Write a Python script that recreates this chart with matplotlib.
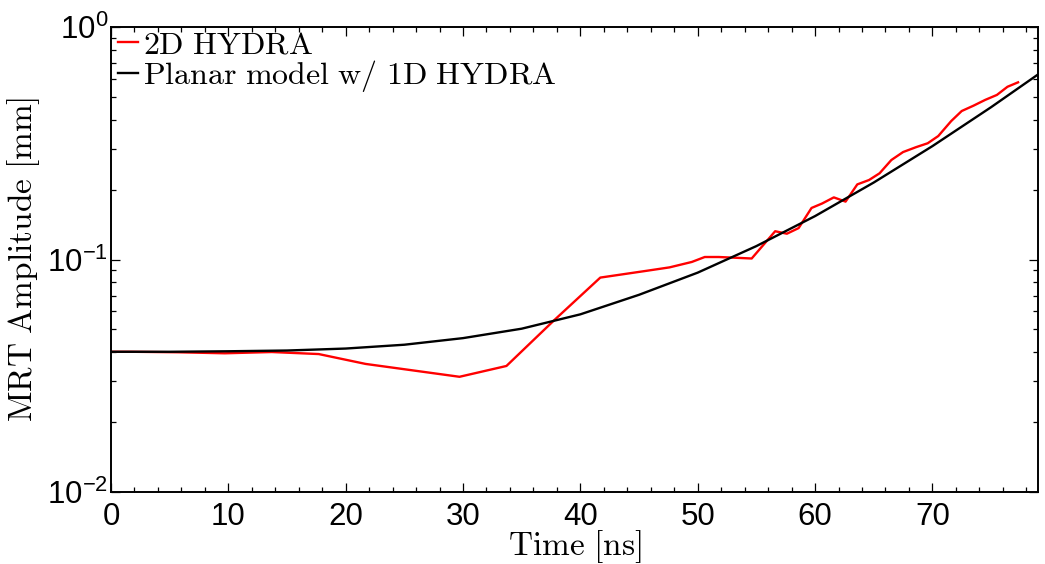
import matplotlib
matplotlib.use("Agg")
import matplotlib.pyplot as plt
from matplotlib.ticker import MultipleLocator, LogLocator, NullFormatter

# 2D HYDRA simulation (red)
t_2d = [0.0, 1.7, 5.7, 9.7, 13.7, 17.7, 21.7, 29.7, 33.7, 37.8, 41.7, 45.7, 47.6,
        49.5, 50.6, 51.8, 54.6, 56.6, 57.6, 58.6, 59.7, 60.6, 61.6, 62.6, 63.6,
        64.6, 65.5, 66.5, 67.5, 68.6, 69.6, 70.5, 71.6, 72.5, 73.5, 74.5, 75.5,
        76.4, 77.3]
a_2d = [0.0401, 0.0401, 0.0399, 0.0395, 0.0400, 0.0392, 0.03555, 0.0313, 0.03484,
        0.0550, 0.0836, 0.0895, 0.0925, 0.0976, 0.1025, 0.1025, 0.1010, 0.1323,
        0.1291, 0.1365, 0.1666, 0.1741, 0.1850, 0.1774, 0.2104, 0.2197, 0.2349,
        0.2678, 0.2898, 0.3041, 0.3162, 0.3396, 0.3938, 0.4352, 0.4587, 0.4858,
        0.5104, 0.5533, 0.5781]

# Planar model with 1D HYDRA (black)
t_model = [0, 5, 10, 15, 20, 25, 30, 35, 40, 45, 50, 55, 60, 65, 70, 75, 79]
a_model = [0.0401, 0.0401, 0.0403, 0.0406, 0.0414, 0.0430, 0.0459, 0.0504, 0.0581,
           0.0705, 0.0878, 0.1142, 0.1537, 0.2143, 0.3073, 0.4519, 0.6250]

labels = [r'$\mathrm{2D\ HYDRA}$', r'$\mathrm{Planar\ model\ w/\ 1D\ HYDRA}$']

plt.rcParams['mathtext.fontset'] = 'cm'
plt.rcParams['font.family'] = ['Liberation Sans', 'DejaVu Sans']

W, H = 1045, 564
fig = plt.figure(figsize=(W / 100, H / 100), dpi=100)
L, R, T, B = 111, 1038, 27, 492
ax = fig.add_axes([L / W, 1 - B / H, (R - L) / W, (B - T) / H])

ax.plot(t_2d, a_2d, color='#ff0000', lw=1.7, label=labels[0])
ax.plot(t_model, a_model, color='black', lw=1.7, label=labels[1])

ax.set_yscale('log')
ax.set_xlim(0, 79)
ax.set_ylim(1e-2, 1e0)
ax.xaxis.set_major_locator(MultipleLocator(10))
ax.xaxis.set_minor_locator(MultipleLocator(2))
ax.yaxis.set_major_locator(LogLocator(base=10, numticks=10))
ax.yaxis.set_minor_locator(LogLocator(base=10, subs=range(2, 10), numticks=20))
ax.yaxis.set_minor_formatter(NullFormatter())

ax.tick_params(which='both', direction='in', top=True, right=True, width=0.9)
ax.tick_params(which='major', length=6.5, labelsize=22.5)
ax.tick_params(which='minor', length=3.3)
ax.tick_params(axis='x', which='major', pad=7)
ax.tick_params(axis='y', which='major', pad=2)
for s in ax.spines.values():
    s.set_linewidth(1.4)

ax.set_xlabel(r'$\mathrm{Time\ [ns]}$', fontsize=24)
ax.xaxis.set_label_coords(0.5, -0.078)
ax.set_ylabel(r'$\mathrm{MRT\ Amplitude\ [mm]}$', fontsize=24)
ax.yaxis.set_label_coords(-0.074, 0.5)

leg = ax.legend(loc='upper left', bbox_to_anchor=(0.0075, 0.993), frameon=False,
                fontsize=23, handlelength=0.63, handletextpad=0.16,
                borderaxespad=0.0, labelspacing=-0.08, borderpad=0.0)

fig.savefig('out.png', dpi=100)
